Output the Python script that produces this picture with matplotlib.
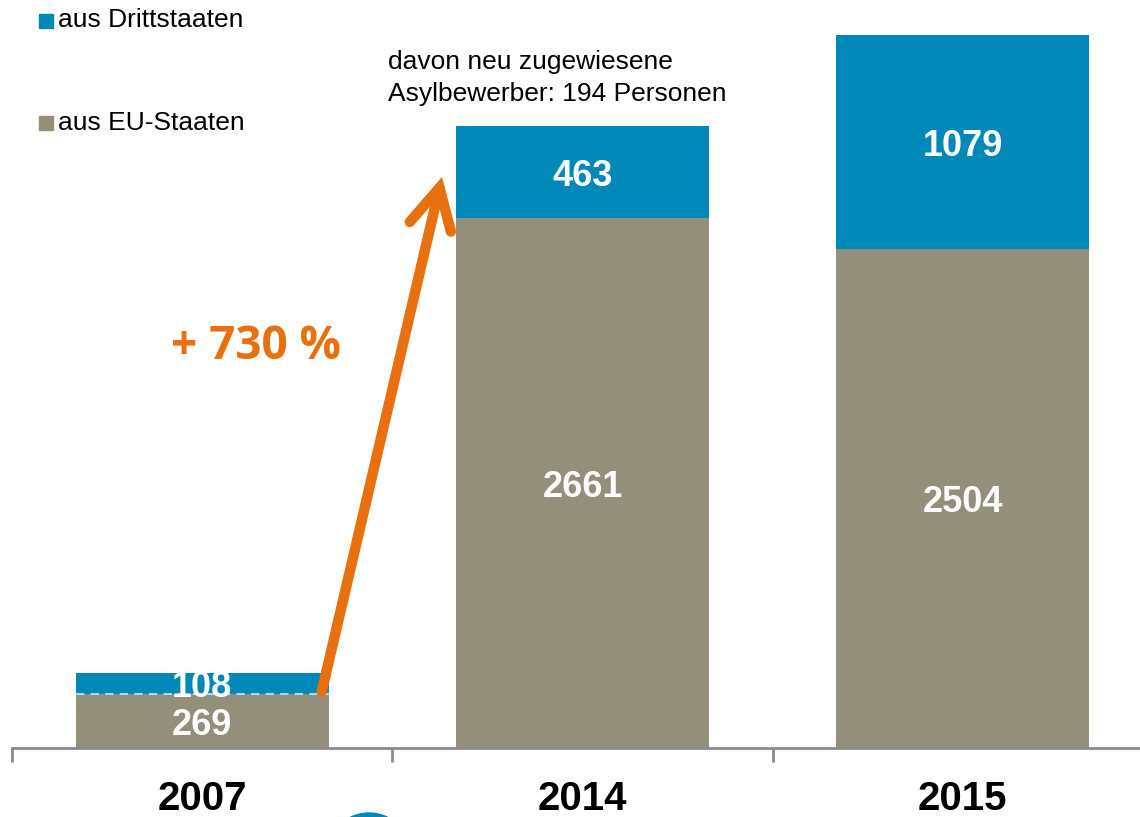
import matplotlib
matplotlib.use("Agg")
import matplotlib.pyplot as plt
from matplotlib.patches import Rectangle, Circle

years = ["2007", "2014", "2015"]
eu_staaten = [269, 2661, 2504]
drittstaaten = [108, 463, 1079]

blue = "#0088b8"
gray = "#938f7a"
orange = "#e8700e"
W, H = 1140, 817

plt.rcParams['font.family'] = ['Liberation Sans', 'DejaVu Sans']

fig = plt.figure(figsize=(W / 100, H / 100), dpi=100)
# axes: x from 12px to 1153px, y from 748px (baseline) to top
ax = fig.add_axes([12 / W, (H - 748) / H, 1141 / W, 748 / H])

x = list(range(len(years)))
bw = 0.665
ax.bar(x, eu_staaten, bw, color=gray, zorder=2)
ax.bar(x, drittstaaten, bw, bottom=eu_staaten, color=blue, zorder=2)

# dashed boundary in the small 2007 bar
ax.hlines(eu_staaten[0], x[0] - bw / 2, x[0] + bw / 2, colors="#a9d9ec",
          linestyles=(0, (4, 3)), lw=1.5, zorder=3)

for i in x:
    ax.text(i, eu_staaten[i] / 2, str(eu_staaten[i]), ha="center",
            va="center_baseline", color="white", fontsize=26,
            fontweight="bold", zorder=4)
    ax.text(i, eu_staaten[i] + drittstaaten[i] / 2, str(drittstaaten[i]),
            ha="center", va="center_baseline", color="white", fontsize=26,
            fontweight="bold", zorder=4)

ax.set_xlim(-0.5, 2.5)
ax.set_ylim(0, 748 / 0.1991)
ax.set_xticks(x)
ax.set_xticklabels(years, fontsize=29, fontweight="bold")
ax.set_xticks([-0.5, 0.5, 1.5, 2.5], minor=True)
ax.tick_params(axis="x", which="major", length=0, pad=23)
ax.tick_params(axis="x", which="minor", length=10, width=2, color="#8c8c8c")
ax.set_yticks([])
for s in ["top", "right", "left"]:
    ax.spines[s].set_visible(False)
ax.spines["bottom"].set_color("#8c8c8c")
ax.spines["bottom"].set_linewidth(2)

# growth arrow
ax.annotate("", xy=(0.6306, 2868), xytext=(0.3143, 283),
            arrowprops=dict(arrowstyle="->,head_length=0.72,head_width=0.38",
                            color=orange, lw=7.5, mutation_scale=40,
                            shrinkA=0, shrinkB=0, joinstyle="miter"),
            zorder=5)
ax.text(0.142, 2015, "+ 730 %", color=orange, fontsize=33, fontweight="bold",
        family="Open Sans", ha="center", va="center")

# annotation text
fig.text(388 / W, 1 - 78 / H, "davon neu zugewiesene\nAsylbewerber: 194 Personen",
         fontsize=19, ha="left", va="center", linespacing=1.45)

# legend
fig.add_artist(Rectangle((39 / W, 1 - 28 / H), 14 / W, 14 / H, color=blue,
                         transform=fig.transFigure))
fig.add_artist(Rectangle((39 / W, 1 - 130 / H), 14 / W, 14 / H, color=gray,
                         transform=fig.transFigure))
fig.text(58 / W, 1 - 20 / H, "aus Drittstaaten", fontsize=19, va="center")
fig.text(58 / W, 1 - 123 / H, "aus EU-Staaten", fontsize=19, va="center")

# logo fragment at the bottom edge
fig.add_artist(Circle((3.69, -0.38), 0.42, color=blue,
                      transform=fig.dpi_scale_trans))

fig.savefig("out.png", dpi=100)
